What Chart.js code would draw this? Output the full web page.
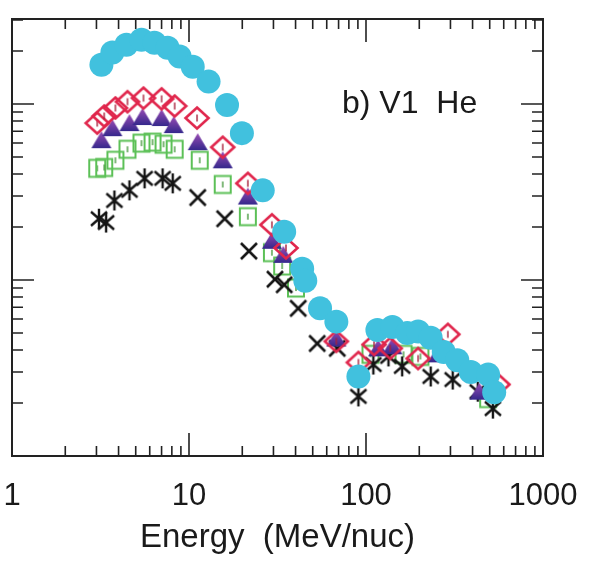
<!DOCTYPE html>
<html>
<head>
<meta charset="utf-8">
<script src="https://cdn.jsdelivr.net/npm/chart.js@4"></script>
<style>
  html, body { margin: 0; padding: 0; background: #fff; }
</style>
</head>
<body>
<canvas id="he-chart" width="591" height="570"></canvas>
<script>
// x tick labels (MeV/nuc)
const xTickLabels = [1, 10, 100, 1000];

// cyan filled circles
const circEnergy = [3.2, 3.69, 4.43, 5.39, 6.38, 7.57, 8.85, 10.5, 12.9, 16.4, 19.9, 26.1, 34.5, 43.6, 45.4, 55, 68, 90.6, 116, 141, 171, 197, 232, 275, 328, 391, 490, 530];
const circFlux = [1.67, 1.96, 2.17, 2.32, 2.23, 2.09, 1.86, 1.63, 1.34, 0.987, 0.683, 0.323, 0.188, 0.116, 0.099, 0.069, 0.058, 0.0283, 0.052, 0.054, 0.050, 0.051, 0.047, 0.039, 0.035, 0.030, 0.029, 0.023];

// red open diamonds
const diaEnergy = [3.03, 3.32, 3.84, 4.49, 5.53, 7.0, 8.3, 11.1, 15.5, 21.5, 29.4, 35.3, 68, 90.6, 111, 137, 197, 290, 557];
const diaFlux = [0.779, 0.854, 0.949, 1.03, 1.08, 1.07, 0.974, 0.832, 0.568, 0.354, 0.206, 0.152, 0.0448, 0.034, 0.043, 0.0409, 0.0358, 0.0491, 0.0255];

// purple filled triangles
const triEnergy = [3.2, 3.69, 4.61, 5.46, 7.0, 8.2, 11.2, 15.5, 21.5, 29.4, 34.1, 68, 117, 141, 254, 437];
const triFlux = [0.623, 0.729, 0.779, 0.843, 0.832, 0.759, 0.607, 0.479, 0.298, 0.167, 0.139, 0.0465, 0.0409, 0.042, 0.0378, 0.0232];

// green open squares
const sqEnergy = [3.03, 3.32, 3.84, 4.49, 5.39, 6.22, 7.18, 8.3, 11.5, 15.5, 21.5, 29.4, 33.6, 40.2, 106, 163, 203, 490];
const sqFlux = [0.431, 0.436, 0.479, 0.553, 0.599, 0.607, 0.591, 0.553, 0.479, 0.349, 0.229, 0.143, 0.120, 0.09, 0.0378, 0.0378, 0.0368, 0.0212];

// black crosses / asterisks
const crossEnergy = [3.1, 3.4, 3.79, 4.61, 5.61, 7.09, 8.09, 11.2, 15.9, 21.8, 30.6, 34.5, 41.4, 53, 68.8, 90.6, 110, 134, 160, 232, 309, 428, 521];
const crossFlux = [0.223, 0.212, 0.283, 0.323, 0.378, 0.378, 0.354, 0.294, 0.223, 0.146, 0.101, 0.094, 0.069, 0.0436, 0.0409, 0.0218, 0.0331, 0.0368, 0.0323, 0.0283, 0.0272, 0.0232, 0.0186];

const FONT = 'Liberation Sans';
const INK = '#1a1a1a';

function markerCanvas(size, paint) {
  const c = document.createElement('canvas');
  c.width = size;
  c.height = size;
  const g = c.getContext('2d');
  g.translate(size / 2, size / 2);
  paint(g);
  return c;
}

const diamondMark = markerCanvas(28, g => {
  g.strokeStyle = '#e0264c';
  g.lineWidth = 2.6;
  g.beginPath();
  g.moveTo(0, -10.5); g.lineTo(11.5, 0); g.lineTo(0, 10.5); g.lineTo(-11.5, 0);
  g.closePath();
  g.stroke();
  g.strokeStyle = '#a8203c';
  g.lineWidth = 1.4;
  g.beginPath(); g.moveTo(0, -3.5); g.lineTo(0, 3.5); g.stroke();
});

const squareMark = markerCanvas(24, g => {
  g.strokeStyle = '#5cc057';
  g.lineWidth = 2;
  g.strokeRect(-8, -8.5, 16, 17);
  g.strokeStyle = '#489a40';
  g.lineWidth = 1.4;
  g.beginPath(); g.moveTo(0, -3); g.lineTo(0, 3); g.stroke();
});

const triangleMark = markerCanvas(24, g => {
  const grad = g.createLinearGradient(0, -9, 0, 8);
  grad.addColorStop(0, '#9a4cb4');
  grad.addColorStop(1, '#35288c');
  g.fillStyle = grad;
  g.beginPath();
  g.moveTo(0, -9); g.lineTo(10, 8); g.lineTo(-10, 8);
  g.closePath();
  g.fill();
});

const crossMark = markerCanvas(24, g => {
  g.strokeStyle = '#141414';
  g.lineWidth = 2.6;
  g.beginPath();
  g.moveTo(-8, -8); g.lineTo(8, 8);
  g.moveTo(8, -8); g.lineTo(-8, 8);
  g.stroke();
});

const asteriskMark = markerCanvas(24, g => {
  g.strokeStyle = '#141414';
  g.lineWidth = 2.4;
  g.beginPath();
  g.moveTo(-8, -7); g.lineTo(8, 7);
  g.moveTo(8, -7); g.lineTo(-8, 7);
  g.moveTo(0, -10); g.lineTo(0, 10);
  g.stroke();
});

function pts(xs, ys) {
  return xs.map((e, i) => ({ x: e, y: ys[i] }));
}

// frame with inward ticks on all four sides + panel label
const frameTicks = {
  id: 'frameTicks',
  beforeDatasetsDraw(chart) {
    const { ctx, chartArea: a, scales: { x, y } } = chart;
    ctx.save();
    ctx.strokeStyle = '#222';
    ctx.lineWidth = 2;
    ctx.strokeRect(a.left, a.top, a.right - a.left, a.bottom - a.top);

    ctx.lineWidth = 1.6;
    ctx.beginPath();
    for (let d = 0; d < 3; d++) {
      for (let m = 1; m <= 9; m++) {
        const px = x.getPixelForValue(m * Math.pow(10, d));
        if (px <= a.left + 1 || px >= a.right - 1) continue;
        const len = m === 1 ? 23 : 10;
        ctx.moveTo(px, a.bottom); ctx.lineTo(px, a.bottom - len);
        ctx.moveTo(px, a.top); ctx.lineTo(px, a.top + len);
      }
    }
    for (let d = -2; d <= 0; d++) {
      for (let m = 1; m <= 9; m++) {
        const py = y.getPixelForValue(m * Math.pow(10, d));
        if (py <= a.top + 1 || py >= a.bottom - 1) continue;
        const len = m === 1 ? 22 : 11;
        ctx.moveTo(a.left, py); ctx.lineTo(a.left + len, py);
        ctx.moveTo(a.right, py); ctx.lineTo(a.right - len, py);
      }
    }
    ctx.stroke();

    ctx.fillStyle = INK;
    ctx.font = '32px "' + FONT + '"';
    ctx.textBaseline = 'alphabetic';
    ctx.fillText('b) V1  He', a.left + 330, a.top + 94);
    ctx.restore();
  }
};

new Chart(document.getElementById('he-chart'), {
  type: 'scatter',
  data: {
    datasets: [
      {
        label: 'cyan',
        data: pts(circEnergy, circFlux),
        pointStyle: 'circle',
        pointRadius: 12,
        pointBackgroundColor: '#41c1de',
        pointBorderWidth: 0,
      },
      {
        label: 'red',
        data: pts(diaEnergy, diaFlux),
        pointStyle: diamondMark,
        pointRadius: 10,
      },
      {
        label: 'purple',
        data: pts(triEnergy, triFlux),
        pointStyle: triangleMark,
        pointRadius: 10,
      },
      {
        label: 'black',
        data: pts(crossEnergy, crossFlux),
        pointStyle: crossEnergy.map(e => (e < 9 || e > 85) ? asteriskMark : crossMark),
        pointRadius: 10,
      },
      {
        label: 'green',
        data: pts(sqEnergy, sqFlux),
        pointStyle: squareMark,
        pointRadius: 10,
      },
    ],
  },
  options: {
    responsive: false,
    animation: false,
    events: [],
    devicePixelRatio: 1,
    layout: { padding: { left: 12, right: 48, top: 19, bottom: 12 } },
    plugins: {
      legend: { display: false },
      tooltip: { enabled: false },
    },
    scales: {
      x: {
        type: 'logarithmic',
        min: 1,
        max: 1000,
        grid: { display: false, drawTicks: false },
        border: { display: false },
        afterBuildTicks: s => { s.ticks = xTickLabels.map(v => ({ value: v })); },
        afterFit: s => {
          s.paddingLeft = 0;
          s.paddingRight = 0;
          s.height = 102;
        },
        ticks: {
          font: { family: FONT, size: 31 },
          color: INK,
          padding: 22,
          maxRotation: 0,
          autoSkip: false,
          callback: v => String(v),
        },
        title: {
          display: true,
          text: 'Energy  (MeV/nuc)',
          font: { family: FONT, size: 33 },
          color: INK,
          padding: { top: 0, bottom: 0 },
        },
      },
      y: {
        type: 'logarithmic',
        min: 0.01,
        max: 3.04,
        display: false,
      },
    },
  },
  plugins: [frameTicks],
});
</script>
</body>
</html>
